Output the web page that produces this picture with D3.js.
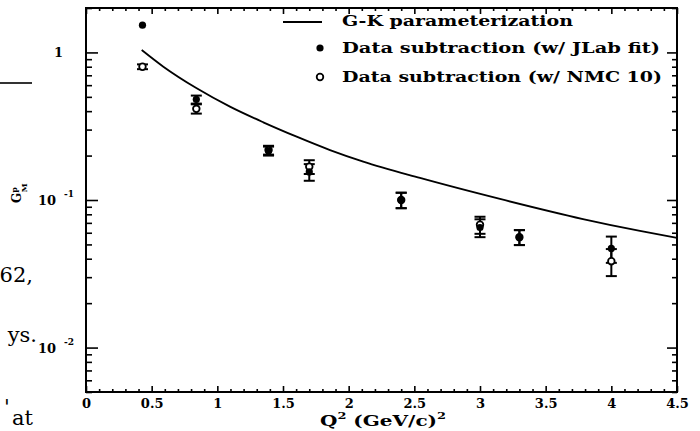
<html>
    <head>
        <script src="https://d3js.org/d3.v7.min.js"></script>
        <style>
            body { margin: 0; background: #fff; }
            svg { display: block; }
            .tick line { stroke: #000; stroke-width: 1.6px; }
            .tick text { font-family: "DejaVu Serif", serif; font-weight: bold; font-size: 13px; fill: #000; }
            .lbl { font-family: "DejaVu Serif", serif; font-weight: bold; fill: #000; }
            .page { font-family: "DejaVu Serif", serif; font-size: 21px; fill: #000; }
            .gk { fill: none; stroke: #000; stroke-width: 1.8px; }
            .err { stroke: #000; stroke-width: 2px; }
        </style>
    </head>
    <body>
        <script>
            // measured points (Q^2 in (GeV/c)^2)
            var q2 = [0.43, 0.84, 1.39, 1.70, 2.40, 3.00, 3.30, 4.00];
            var jlab = [1.53, 0.48, 0.215, 0.155, 0.100, 0.065, 0.056, 0.047];
            var jlabErr = [0, 0.03, 0.015, 0.02, 0.012, 0.009, 0.0065, 0.0095];
            var nmc = [0.80, 0.415, 0.218, 0.168, 0.100, 0.068, 0.056, 0.0385];
            var nmcErr = [0.03, 0.03, 0.015, 0.018, 0.012, 0.009, 0.0065, 0.008];

            // G-K parameterization curve
            var gkQ2 = [0.424, 0.589, 0.843, 1.096, 1.350, 1.604, 1.858, 2.111, 2.543, 3.152, 3.784, 4.218, 4.500];
            var gkVal = [1.038, 0.800, 0.571, 0.429, 0.336, 0.2685, 0.218, 0.182, 0.141, 0.1016, 0.0743, 0.0617, 0.0553];

            var xTicks = [0, 0.5, 1, 1.5, 2, 2.5, 3, 3.5, 4, 4.5];
            var xTickLabels = ["0", "0.5", "1", "1.5", "2", "2.5", "3", "3.5", "4", "4.5"];
            var yTicks = [1, 0.1, 0.01];
            var yTickBase = ["1", "10", "10"];
            var yTickExp = ["", "-1", "-2"];
            var legendLabels = ["G-K parameterization", "Data subtraction (w/ JLab fit)", "Data subtraction (w/ NMC 10)"];

            var margin = {top: 8, right: 23, bottom: 39, left: 86},
                width = 700 - margin.left - margin.right,
                height = 431 - margin.top - margin.bottom;

            var x = d3.scaleLinear().domain([0, 4.5]).range([0, width]);
            var y = d3.scaleLog().domain([0.005, 2]).range([height, 0]);

            var xMinor = d3.range(0, 45).map(function(i) { return i / 10; }).filter(function(v) { return xTicks.indexOf(v) < 0; });
            var yMinor = [];
            [0.001, 0.01, 0.1, 1].forEach(function(dec) {
                for (var k = 2; k <= 9; k++) {
                    var v = +(k * dec).toPrecision(3);
                    if (v >= 0.005 && v <= 2) yMinor.push(v);
                }
            });

            var svg = d3.select("body").append("svg")
                .attr("width", 700)
                .attr("height", 431);
            var g = svg.append("g")
                .attr("transform", "translate(" + margin.left + "," + margin.top + ")");

            function noDomain(sel) { sel.select(".domain").remove(); }

            // bottom axis
            g.append("g").attr("transform", "translate(0," + height + ")")
                .call(d3.axisBottom(x).tickValues(xTicks).tickSize(-6).tickPadding(7)
                    .tickFormat(function(d, i) { return xTickLabels[i]; }))
                .call(noDomain);
            g.append("g").attr("transform", "translate(0," + height + ")")
                .call(d3.axisBottom(x).tickValues(xMinor).tickSize(-3).tickFormat(""))
                .call(noDomain);
            // top axis
            g.append("g")
                .call(d3.axisTop(x).tickValues(xTicks).tickSize(-6).tickFormat(""))
                .call(noDomain);
            g.append("g")
                .call(d3.axisTop(x).tickValues(xMinor).tickSize(-3).tickFormat(""))
                .call(noDomain);
            // left axis
            g.append("g")
                .call(d3.axisLeft(y).tickValues(yTicks).tickSize(-12).tickFormat(""))
                .call(noDomain);
            g.append("g")
                .call(d3.axisLeft(y).tickValues(yMinor).tickSize(-6).tickFormat(""))
                .call(noDomain);
            // right axis
            g.append("g").attr("transform", "translate(" + width + ",0)")
                .call(d3.axisRight(y).tickValues(yTicks).tickSize(-10).tickFormat(""))
                .call(noDomain);
            g.append("g").attr("transform", "translate(" + width + ",0)")
                .call(d3.axisRight(y).tickValues(yMinor).tickSize(-5).tickFormat(""))
                .call(noDomain);

            // y tick labels, powers of ten
            yTicks.forEach(function(v, i) {
                var t = g.append("text").attr("class", "lbl").attr("font-size", 13)
                    .attr("y", y(v) + 5);
                if (yTickExp[i] === "") {
                    t.attr("x", -23).attr("text-anchor", "end").text(yTickBase[i]);
                } else {
                    t.attr("x", -48);
                    t.append("tspan").text(yTickBase[i]);
                    t.append("tspan").attr("font-size", 9).attr("dx", 8).attr("dy", -8).text(yTickExp[i]);
                }
            });

            // frame
            g.append("rect")
                .attr("width", width).attr("height", height)
                .attr("fill", "none").attr("stroke", "#000").attr("stroke-width", 2);

            // G-K curve
            var line = d3.line()
                .x(function(d) { return x(d[0]); })
                .y(function(d) { return y(d[1]); })
                .curve(d3.curveMonotoneX);
            g.append("path")
                .datum(d3.zip(gkQ2, gkVal))
                .attr("class", "gk")
                .attr("d", line);

            function errorBars(vals, errs) {
                var rows = q2.map(function(q, i) { return {q: q, v: vals[i], e: errs[i]}; })
                    .filter(function(d) { return d.e > 0; });
                var eb = g.append("g").selectAll("g").data(rows).enter().append("g").attr("class", "err");
                eb.append("line")
                    .attr("x1", function(d) { return x(d.q); }).attr("x2", function(d) { return x(d.q); })
                    .attr("y1", function(d) { return y(d.v - d.e); }).attr("y2", function(d) { return y(d.v + d.e); });
                [-1, 1].forEach(function(s) {
                    eb.append("line")
                        .attr("x1", function(d) { return x(d.q) - 5.5; }).attr("x2", function(d) { return x(d.q) + 5.5; })
                        .attr("y1", function(d) { return y(d.v + s * d.e); }).attr("y2", function(d) { return y(d.v + s * d.e); });
                });
            }
            errorBars(nmc, nmcErr);
            errorBars(jlab, jlabErr);

            g.append("g").selectAll("circle").data(q2).enter().append("circle")
                .attr("cx", function(d) { return x(d); })
                .attr("cy", function(d, i) { return y(nmc[i]); })
                .attr("r", 3.3).attr("fill", "#fff").attr("stroke", "#000").attr("stroke-width", 1.8);
            g.append("g").selectAll("circle").data(q2).enter().append("circle")
                .attr("cx", function(d) { return x(d); })
                .attr("cy", function(d, i) { return y(jlab[i]); })
                .attr("r", 3.6).attr("fill", "#000");

            // legend
            var leg = svg.append("g");
            leg.append("line").attr("x1", 283).attr("x2", 322).attr("y1", 22).attr("y2", 22)
                .attr("stroke", "#000").attr("stroke-width", 1.8);
            leg.append("circle").attr("cx", 320).attr("cy", 48).attr("r", 3.6).attr("fill", "#000");
            leg.append("circle").attr("cx", 320).attr("cy", 77).attr("r", 3.3)
                .attr("fill", "#fff").attr("stroke", "#000").attr("stroke-width", 1.8);
            var legBase = [26, 53, 82], legLen = [231, 318, 320];
            legendLabels.forEach(function(s, i) {
                leg.append("text").attr("class", "lbl").attr("font-size", 14)
                    .attr("x", 342).attr("y", legBase[i])
                    .attr("textLength", legLen[i]).attr("lengthAdjust", "spacingAndGlyphs")
                    .text(s);
            });

            // axis titles
            var xt = svg.append("text").attr("class", "lbl").attr("font-size", 14)
                .attr("x", 320).attr("y", 426)
                .attr("textLength", 126).attr("lengthAdjust", "spacingAndGlyphs");
            xt.append("tspan").text("Q");
            xt.append("tspan").attr("font-size", 9).attr("dy", -7).text("2");
            xt.append("tspan").attr("dy", 7).text(" (GeV/c)");
            xt.append("tspan").attr("font-size", 9).attr("dy", -7).text("2");

            var yt = svg.append("text").attr("class", "lbl").attr("font-size", 12)
                .attr("transform", "translate(21,203) rotate(-90)");
            yt.append("tspan").text("G");
            yt.append("tspan").attr("font-size", 8).attr("dy", -4).text("p");
            yt.append("tspan").attr("font-size", 8).attr("dx", -5).attr("dy", 10).text("M");

            // fragments of the surrounding page text
            svg.append("line").attr("x1", 0).attr("x2", 32).attr("y1", 83).attr("y2", 83)
                .attr("stroke", "#000").attr("stroke-width", 1.6);
            svg.append("text").attr("class", "page").attr("x", 33).attr("y", 282).attr("text-anchor", "end").text("62,");
            svg.append("text").attr("class", "page").attr("x", 37).attr("y", 342).attr("text-anchor", "end").text("ys.");
            svg.append("text").attr("class", "page").attr("x", 4).attr("y", 414).attr("font-size", 10).text("'");
            svg.append("text").attr("class", "page").attr("x", 33).attr("y", 425).attr("font-size", 20).attr("text-anchor", "end").text("at");
        </script>
    </body>
</html>
